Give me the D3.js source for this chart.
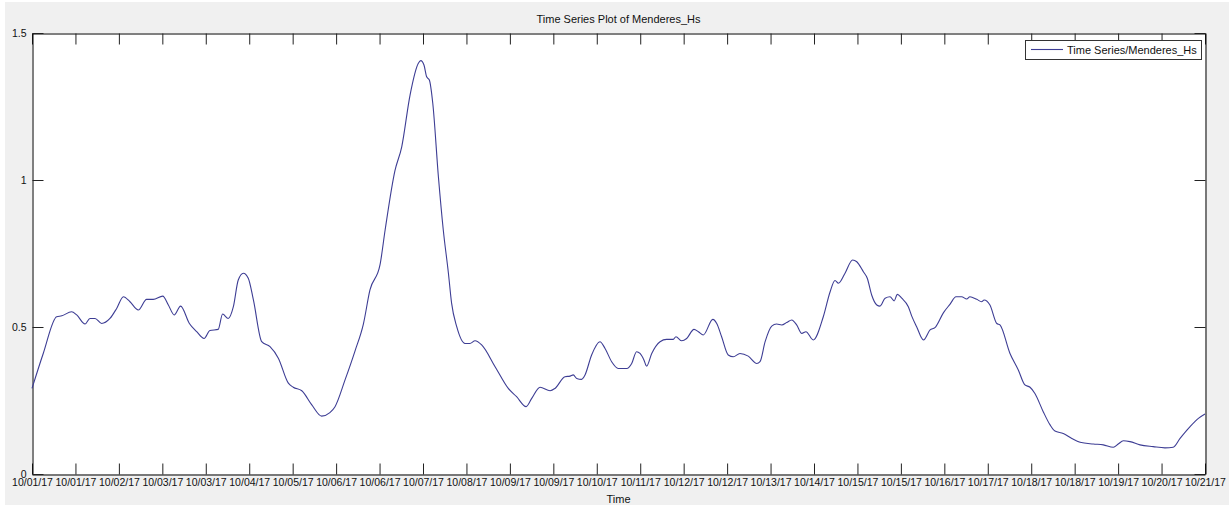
<!DOCTYPE html>
<html>
<head>
<meta charset="utf-8">
<script src="https://cdn.jsdelivr.net/npm/d3@7"></script>
<style>
  html, body { margin: 0; padding: 0; background: #ffffff; }
  svg { display: block; }
  text { font-family: "Liberation Sans", Arial, Helvetica, sans-serif; fill: #111; }
</style>
</head>
<body>
<svg id="chart" width="1229" height="506"></svg>
<script>
// Hours since 2017-10-01 00:00 UTC and significant wave height (m)
const hours = [0, 4.6, 10.1, 12.2, 16.2, 18.3, 21.7, 23.7, 25.8, 28.5, 31.9, 34.7, 37.4, 40.1, 43.5, 46.9, 49.6, 53.5, 55.8, 58.2,
  60.8, 64.4, 67.4, 70.4, 72.8, 76.2, 78.0, 80.3, 82.4, 84.4, 86.5, 88.5, 90.6, 94.0, 97.4, 100.8, 104.9, 106.9, 110.4, 114.5,
  118.5, 121.9, 124.0, 128.1, 132.2, 135.6, 138.3, 142.4, 144.5, 148.5, 151.3, 154.7, 158.1, 159.1, 160.4, 161.5, 162.6, 164.0,
  166.3, 168.3, 170.4, 171.7, 173.8, 177.2, 179.2, 181.3, 184.0, 189.5, 194.9, 198.3, 202.2, 204.5, 207.9, 212.0, 214.0, 218.1,
  220.2, 221.5, 222.9, 224.9, 226.3, 229.0, 232.4, 234.5, 237.2, 239.9, 243.4, 245.4, 247.4, 248.8, 250.4, 251.5, 253.6, 257.0,
  259.7, 262.4, 263.5, 265.9, 267.9, 270.9, 272.7, 274.7, 278.6, 280.2, 282.2, 284.9, 287.0, 289.7, 293.1, 296.6, 297.9, 300.0,
  302.7, 304.7, 306.8, 308.8, 310.9, 312.9, 315.0, 316.7, 319.7, 323.8, 326.6, 328.6, 330.0, 332.7, 335.8, 337.5, 340.2, 341.8,
  343.6, 345.7, 347.0, 349.1, 351.1, 352.8, 354.1, 355.9, 358.6, 360.0, 362.0, 364.8, 367.5, 369.5, 373.0, 375.7, 378.1, 380.4,
  382.5, 383.8, 386.6, 388.6, 389.6, 392.0, 394.8, 396.1, 400.2, 403.6, 406.3, 408.4, 410.4, 413.8, 416.6, 418.6, 422.0, 425.5,
  428.9, 434.3, 438.4, 442.5, 444.5, 446.6, 449.3, 453.4, 458.8, 463.6, 467.0, 469.8, 473.9, 477.3, 480];
const hs = [0.291, 0.41, 0.535, 0.538, 0.552, 0.541, 0.510, 0.529, 0.529, 0.512, 0.529, 0.564, 0.603, 0.586, 0.558, 0.594, 0.594, 0.605, 0.575, 0.541,
  0.571, 0.512, 0.484, 0.461, 0.488, 0.492, 0.544, 0.529, 0.569, 0.660, 0.683, 0.666, 0.592, 0.450, 0.433, 0.394, 0.309, 0.295, 0.283, 0.235,
  0.197, 0.209, 0.229, 0.320, 0.419, 0.510, 0.626, 0.711, 0.830, 1.031, 1.113, 1.289, 1.397, 1.406, 1.391, 1.351, 1.340, 1.261,
  1.011, 0.830, 0.683, 0.581, 0.501, 0.444, 0.444, 0.453, 0.439, 0.365, 0.291, 0.263, 0.229, 0.257, 0.295, 0.283, 0.291, 0.331,
  0.333, 0.337, 0.325, 0.322, 0.337, 0.405, 0.450, 0.427, 0.382, 0.359, 0.359, 0.376, 0.416, 0.410, 0.388, 0.367, 0.410, 0.450,
  0.458, 0.458, 0.467, 0.453, 0.461, 0.492, 0.484, 0.473, 0.526, 0.512, 0.467, 0.405, 0.399, 0.410, 0.401, 0.376, 0.382, 0.450,
  0.503, 0.510, 0.507, 0.515, 0.524, 0.507, 0.478, 0.484, 0.456, 0.535, 0.620, 0.658, 0.649, 0.683, 0.728, 0.722, 0.688, 0.666,
  0.609, 0.575, 0.571, 0.598, 0.603, 0.589, 0.611, 0.598, 0.569, 0.537, 0.501, 0.456, 0.490, 0.498, 0.549, 0.578, 0.603, 0.603,
  0.595, 0.603, 0.594, 0.586, 0.592, 0.575, 0.512, 0.507, 0.410, 0.354, 0.303, 0.295, 0.274, 0.212, 0.167, 0.146, 0.138, 0.121,
  0.108, 0.102, 0.099, 0.091, 0.102, 0.113, 0.110, 0.099, 0.093, 0.089, 0.091, 0.121, 0.161, 0.189, 0.204];

// Axis tick labels (28 evenly spaced ticks across the time span)
const xTickLabels = ["10/01/17", "10/01/17", "10/02/17", "10/03/17", "10/03/17", "10/04/17", "10/05/17", "10/06/17", "10/06/17", "10/07/17",
  "10/08/17", "10/09/17", "10/09/17", "10/10/17", "10/11/17", "10/12/17", "10/12/17", "10/13/17", "10/14/17", "10/15/17",
  "10/15/17", "10/16/17", "10/17/17", "10/18/17", "10/18/17", "10/19/17", "10/20/17", "10/21/17"];
const yTicks = [0, 0.5, 1, 1.5];

const startTime = Date.UTC(2017, 9, 1);
const endTime = Date.UTC(2017, 9, 21);
const data = hours.map((h, i) => ({ t: new Date(startTime + h * 3600e3), v: hs[i] }));

const svg = d3.select("#chart");
const W = 1229, H = 506;
const plot = { left: 32, right: 1205, top: 33, bottom: 474 };

// figure background
svg.append("rect").attr("x", 5).attr("y", 2).attr("width", W - 5).attr("height", 503).attr("fill", "#f0f0f0");
svg.append("rect").attr("x", plot.left).attr("y", plot.top)
  .attr("width", plot.right - plot.left).attr("height", plot.bottom - plot.top).attr("fill", "#ffffff");

const x = d3.scaleUtc().domain([new Date(startTime), new Date(endTime)]).range([plot.left, plot.right]);
const y = d3.scaleLinear().domain([0, 1.5]).range([plot.bottom, plot.top]);

const nT = xTickLabels.length;
const xTickValues = d3.range(nT).map(i => new Date(startTime + (endTime - startTime) * i / (nT - 1)));

const axisStyle = g => {
  g.selectAll(".domain").attr("stroke", "#000").attr("stroke-width", 1);
  g.selectAll(".tick line").attr("stroke", "#222").attr("stroke-width", 1);
  g.selectAll(".tick text").attr("fill", "#111").style("font-size", "10.5px")
    .style("font-family", "'Liberation Sans', Arial, sans-serif");
};

svg.append("g").attr("transform", `translate(0,${plot.bottom + 0.5})`)
  .call(d3.axisBottom(x).tickValues(xTickValues).tickFormat((d, i) => xTickLabels[i])
    .tickSizeInner(-11).tickSizeOuter(0).tickPadding(4))
  .call(axisStyle);

svg.append("g").attr("transform", `translate(0,${plot.top + 0.5})`)
  .call(d3.axisTop(x).tickValues(xTickValues).tickFormat("")
    .tickSizeInner(-11).tickSizeOuter(0))
  .call(axisStyle);

svg.append("g").attr("transform", `translate(${plot.left + 0.5},0)`)
  .call(d3.axisLeft(y).tickValues(yTicks).tickFormat(d3.format("~g"))
    .tickSizeInner(-11).tickSizeOuter(0).tickPadding(6))
  .call(axisStyle);

svg.append("g").attr("transform", `translate(${plot.right + 0.5},0)`)
  .call(d3.axisRight(y).tickValues(yTicks).tickFormat("")
    .tickSizeInner(-11).tickSizeOuter(0))
  .call(axisStyle);

// series line
const line = d3.line().x(d => x(d.t)).y(d => y(d.v)).curve(d3.curveMonotoneX);
svg.append("path").datum(data).attr("d", line)
  .attr("fill", "none").attr("stroke", "#3d3d94").attr("stroke-width", 1.1);

// title and axis label
svg.append("text").attr("x", (plot.left + plot.right) / 2).attr("y", 23)
  .attr("text-anchor", "middle").style("font-size", "11px").text("Time Series Plot of Menderes_Hs");
svg.append("text").attr("x", (plot.left + plot.right) / 2).attr("y", 503)
  .attr("text-anchor", "middle").style("font-size", "11px").text("Time");

// legend
const lg = svg.append("g");
lg.append("rect").attr("x", 1025.5).attr("y", 40.5).attr("width", 176).attr("height", 19)
  .attr("fill", "#fff").attr("stroke", "#333").attr("stroke-width", 1);
lg.append("line").attr("x1", 1031).attr("x2", 1063).attr("y1", 49.5).attr("y2", 49.5)
  .attr("stroke", "#3d3d94").attr("stroke-width", 1.1);
lg.append("text").attr("x", 1067).attr("y", 54).style("font-size", "11px").text("Time Series/Menderes_Hs");
</script>
</body>
</html>
